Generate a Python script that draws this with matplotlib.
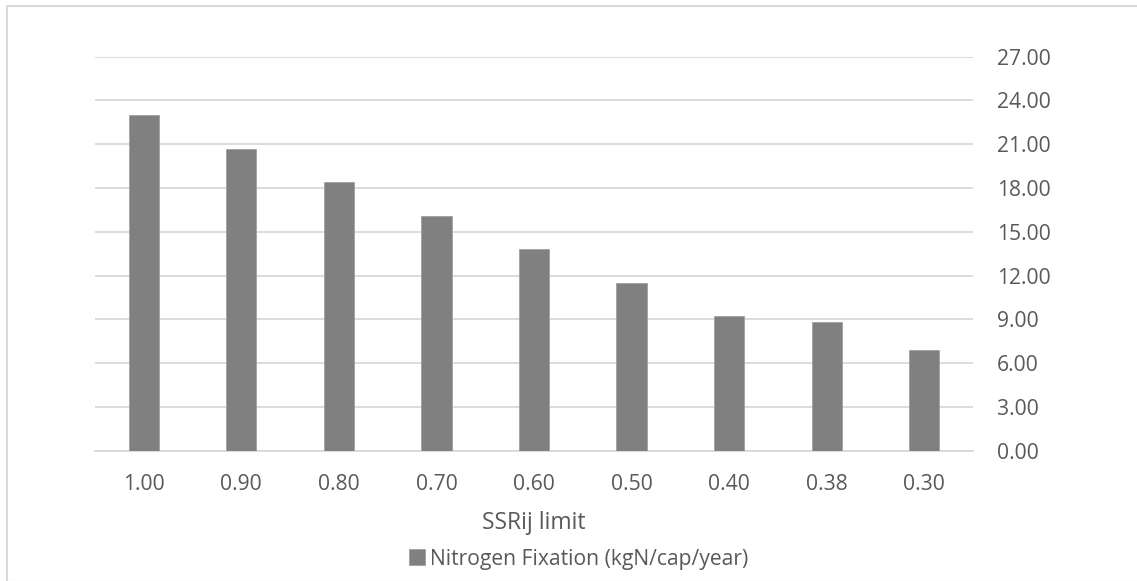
import matplotlib.pyplot as plt
from matplotlib.patches import Rectangle
import numpy as np

# 데이터
categories = ['1.00', '0.90', '0.80', '0.70', '0.60', '0.50', '0.40', '0.38', '0.30']
nitrogen_fixation = [23.0, 20.7, 18.4, 16.1, 13.8, 11.5, 9.2, 8.85, 6.9]
y_ticks = [0, 3, 6, 9, 12, 15, 18, 21, 24, 27]
series_name = 'Nitrogen Fixation (kgN/cap/year)'

plt.rcParams['font.family'] = ['Open Sans', 'DejaVu Sans']

W, H = 1137, 581
fig = plt.figure(figsize=(W / 100, H / 100), dpi=100)
ax = fig.add_axes([95 / W, 1 - 450.7 / H, (973 - 95) / W, (450.7 - 56.7) / H])

# 막대 그리기
x = np.arange(len(categories))
ax.bar(x, nitrogen_fixation, width=0.31, color='#808080', edgecolor='#a0a0a0',
       linewidth=0.6, zorder=3, label=series_name)

ax.set_xlim(-0.5, len(categories) - 0.5)
ax.set_ylim(0, 27)

# 축 설정 (y축은 오른쪽)
ax.yaxis.tick_right()
ax.set_yticks(y_ticks)
ax.set_yticklabels([f'{v:.2f}' for v in y_ticks])
ax.set_xticks(x)
ax.set_xticklabels(categories)
ax.tick_params(axis='both', length=0, labelsize=15.2, labelcolor='#595959')
ax.tick_params(axis='y', pad=17)
ax.tick_params(axis='x', pad=16.5)
for lbl in ax.get_yticklabels():
    lbl.set_horizontalalignment('left')

# 격자선
ax.grid(axis='y', color='#d9d9d9', linewidth=1.3, zorder=0)
for side in ['top', 'left', 'right']:
    ax.spines[side].set_visible(False)
ax.spines['bottom'].set_color('#d9d9d9')
ax.spines['bottom'].set_linewidth(1.3)

ax.set_xlabel('SSRij limit', fontsize=16.5, color='#595959', labelpad=12)

# 범례
fig.legend(loc='center', bbox_to_anchor=(579 / W, 1 - 559 / H), frameon=False,
           fontsize=15.2, labelcolor='#595959', handlelength=0.75, handleheight=0.75,
           handletextpad=0.25)

# 바깥 테두리
fig.patches.append(Rectangle((7 / W, -0.5 / H), 1.0, 1 - 5.5 / H, transform=fig.transFigure,
                             fill=False, edgecolor='#d9d9d9', linewidth=1.5))

plt.savefig('out.png', dpi=100)
